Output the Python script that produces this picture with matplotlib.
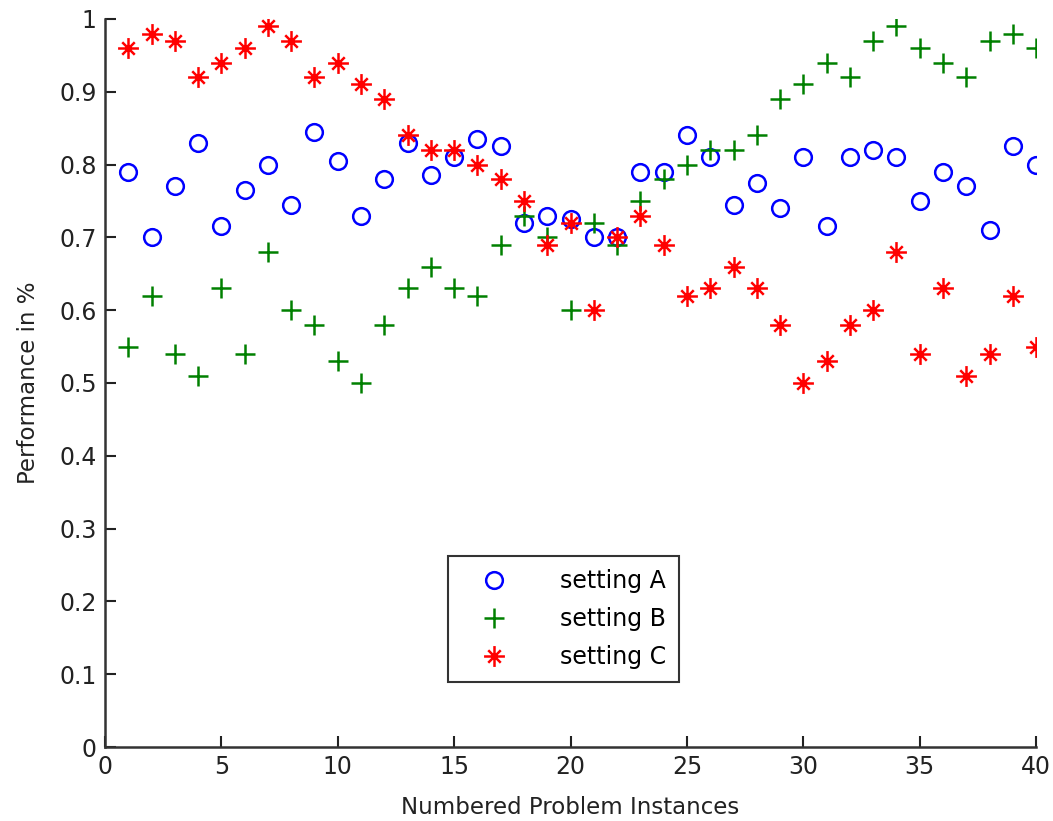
import matplotlib
matplotlib.use("Agg")
import matplotlib.pyplot as plt
import numpy as np
from matplotlib.path import Path

instances = list(range(1, 41))

setting_a = [0.79, 0.70, 0.77, 0.83, 0.715, 0.765, 0.80, 0.745, 0.845, 0.805,
             0.73, 0.78, 0.83, 0.785, 0.81, 0.835, 0.825, 0.72, 0.73, 0.725,
             0.70, 0.70, 0.79, 0.79, 0.84, 0.81, 0.745, 0.775, 0.74, 0.81,
             0.715, 0.81, 0.82, 0.81, 0.75, 0.79, 0.77, 0.71, 0.825, 0.80]

setting_b = [0.55, 0.62, 0.54, 0.51, 0.63, 0.54, 0.68, 0.60, 0.58, 0.53,
             0.50, 0.58, 0.63, 0.66, 0.63, 0.62, 0.69, 0.73, 0.70, 0.60,
             0.72, 0.69, 0.75, 0.78, 0.80, 0.82, 0.82, 0.84, 0.89, 0.91,
             0.94, 0.92, 0.97, 0.99, 0.96, 0.94, 0.92, 0.97, 0.98, 0.96]

setting_c = [0.96, 0.98, 0.97, 0.92, 0.94, 0.96, 0.99, 0.97, 0.92, 0.94,
             0.91, 0.89, 0.84, 0.82, 0.82, 0.80, 0.78, 0.75, 0.69, 0.72,
             0.60, 0.70, 0.73, 0.69, 0.62, 0.63, 0.66, 0.63, 0.58, 0.50,
             0.53, 0.58, 0.60, 0.68, 0.54, 0.63, 0.51, 0.54, 0.62, 0.55]

# MATLAB style asterisk: a plus with a small x on top
d = 0.6
star_path = Path(
    [(-1, 0), (1, 0), (0, -1), (0, 1), (-d, -d), (d, d), (-d, d), (d, -d)],
    [Path.MOVETO, Path.LINETO] * 4,
)

fig = plt.figure(figsize=(10.53, 8.21), dpi=100)
ax = fig.add_axes([0.0997, 0.0901, 0.8843, 0.8868])

ax.plot(instances, setting_a, linestyle='none', marker='o', markersize=12,
        markerfacecolor='none', markeredgecolor='blue', markeredgewidth=1.8,
        label='setting A')
ax.plot(instances, setting_b, linestyle='none', marker='+', markersize=15,
        color='#008000', markeredgewidth=1.8, label='setting B')
ax.plot(instances, setting_c, linestyle='none', marker=star_path, markersize=15,
        color='red', markeredgewidth=1.8, label='setting C')

ax.set_xlim(0, 40)
ax.set_ylim(0, 1)
ax.set_xticks(range(0, 41, 5))
ax.set_yticks(np.arange(0, 1.01, 0.1))
ax.set_yticklabels(['0', '0.1', '0.2', '0.3', '0.4', '0.5', '0.6', '0.7',
                    '0.8', '0.9', '1'])

for side in ['top', 'right']:
    ax.spines[side].set_visible(False)
for side in ['left', 'bottom']:
    ax.spines[side].set_linewidth(1.8)
    ax.spines[side].set_color('#333333')

ax.tick_params(direction='in', length=8, width=1.5, labelsize=17,
               colors='#222222', pad=6)

ax.set_xlabel('Numbered Problem Instances', fontsize=16.5, color='#222222',
              labelpad=12)
ax.set_ylabel('Performance in %', fontsize=16.5, color='#222222',
              labelpad=14)

leg = ax.legend(loc='lower left', bbox_to_anchor=(0.368, 0.089),
                fontsize=17, fancybox=False, edgecolor='black',
                handlelength=2.8, handletextpad=1.4, borderpad=0.55,
                labelspacing=0.6, borderaxespad=0)
leg.get_frame().set_linewidth(1.5)

fig.savefig('out.png', dpi=100)
